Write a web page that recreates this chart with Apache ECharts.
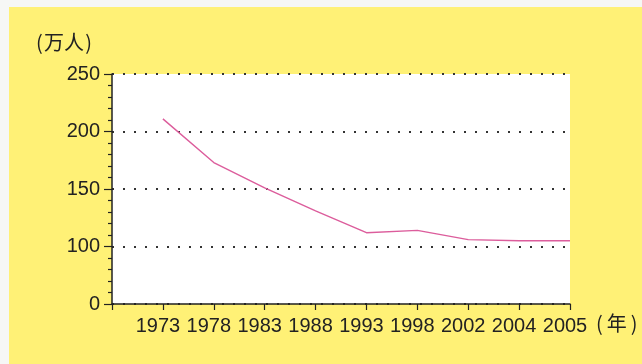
<!DOCTYPE html>
<html>
<head>
<meta charset="utf-8">
<script src="https://cdn.jsdelivr.net/npm/echarts@6/dist/echarts.min.js"></script>
<style>
html,body{margin:0;padding:0;background:#f6f7f5;}
#c{width:642px;height:364px;}
</style>
</head>
<body>
<div id="c"></div>
<script>
// Data
var years = ['', '1973', '1978', '1983', '1988', '1993', '1998', '2002', '2004', '2005'];
var values = [null, 211, 173, 151, 131, 112, 114, 106, 105, 105];
// Y tick labels (the bottom tick stands for 0, axis is broken between 0 and 100)
var yTickValues = [50, 100, 150, 200, 250];
var yTickLabels = ['0', '100', '150', '200', '250'];
var yUnit = '(\u200a万人\u200a)';
var xUnit = '(\u2009年\u2009)';

var chart = echarts.init(document.getElementById('c'), null, {renderer: 'canvas'});
var textColor = '#222';
chart.setOption({
  animation: false,
  backgroundColor: '#f6f7f5',
  graphic: [
    {type: 'rect', z: -10, silent: true, shape: {x: 9, y: 7, width: 633, height: 357}, style: {fill: '#fff176'}},
    {type: 'text', left: 36, top: 32, style: {text: yUnit, fontSize: 20, fill: textColor, fontFamily: '"Noto Sans CJK SC", sans-serif'}},
    {type: 'text', left: 596, top: 313, style: {text: xUnit, fontSize: 20, fill: textColor, fontFamily: '"Noto Sans CJK SC", sans-serif'}}
  ],
  grid: {left: 112, right: 72, top: 74, bottom: 60, show: true, backgroundColor: '#ffffff', borderWidth: 0},
  xAxis: {
    type: 'category',
    data: years,
    boundaryGap: false,
    axisLine: {lineStyle: {color: '#222', width: 1.5}},
    axisTick: {show: true, length: 6, lineStyle: {color: '#222', width: 1.2}},
    axisLabel: {interval: 0, fontSize: 20, color: textColor, margin: 12, fontFamily: '"Liberation Sans", Arial, sans-serif', padding: [0, 10, 0, 0]},
    splitLine: {show: false}
  },
  yAxis: {
    type: 'value',
    min: 50,
    max: 250,
    interval: 50,
    axisLine: {show: true, lineStyle: {color: '#222', width: 1.5}},
    axisTick: {show: true, length: 8, lineStyle: {color: '#222', width: 1.2}},
    minorTick: {show: true, splitNumber: 5, length: 4, lineStyle: {color: '#222', width: 1.2}},
    axisLabel: {
      fontSize: 20, color: textColor, margin: 12, fontFamily: '"Liberation Sans", Arial, sans-serif',
      formatter: function (v) { var i = yTickValues.indexOf(v); return i >= 0 ? yTickLabels[i] : ''; }
    },
    splitLine: {show: true, lineStyle: {color: '#333', width: 2, type: [2, 9]}}
  },
  series: [{
    type: 'line',
    data: values,
    symbol: 'none',
    lineStyle: {color: '#dc5d9c', width: 1.4},
    connectNulls: false
  }]
});
</script>
</body>
</html>
